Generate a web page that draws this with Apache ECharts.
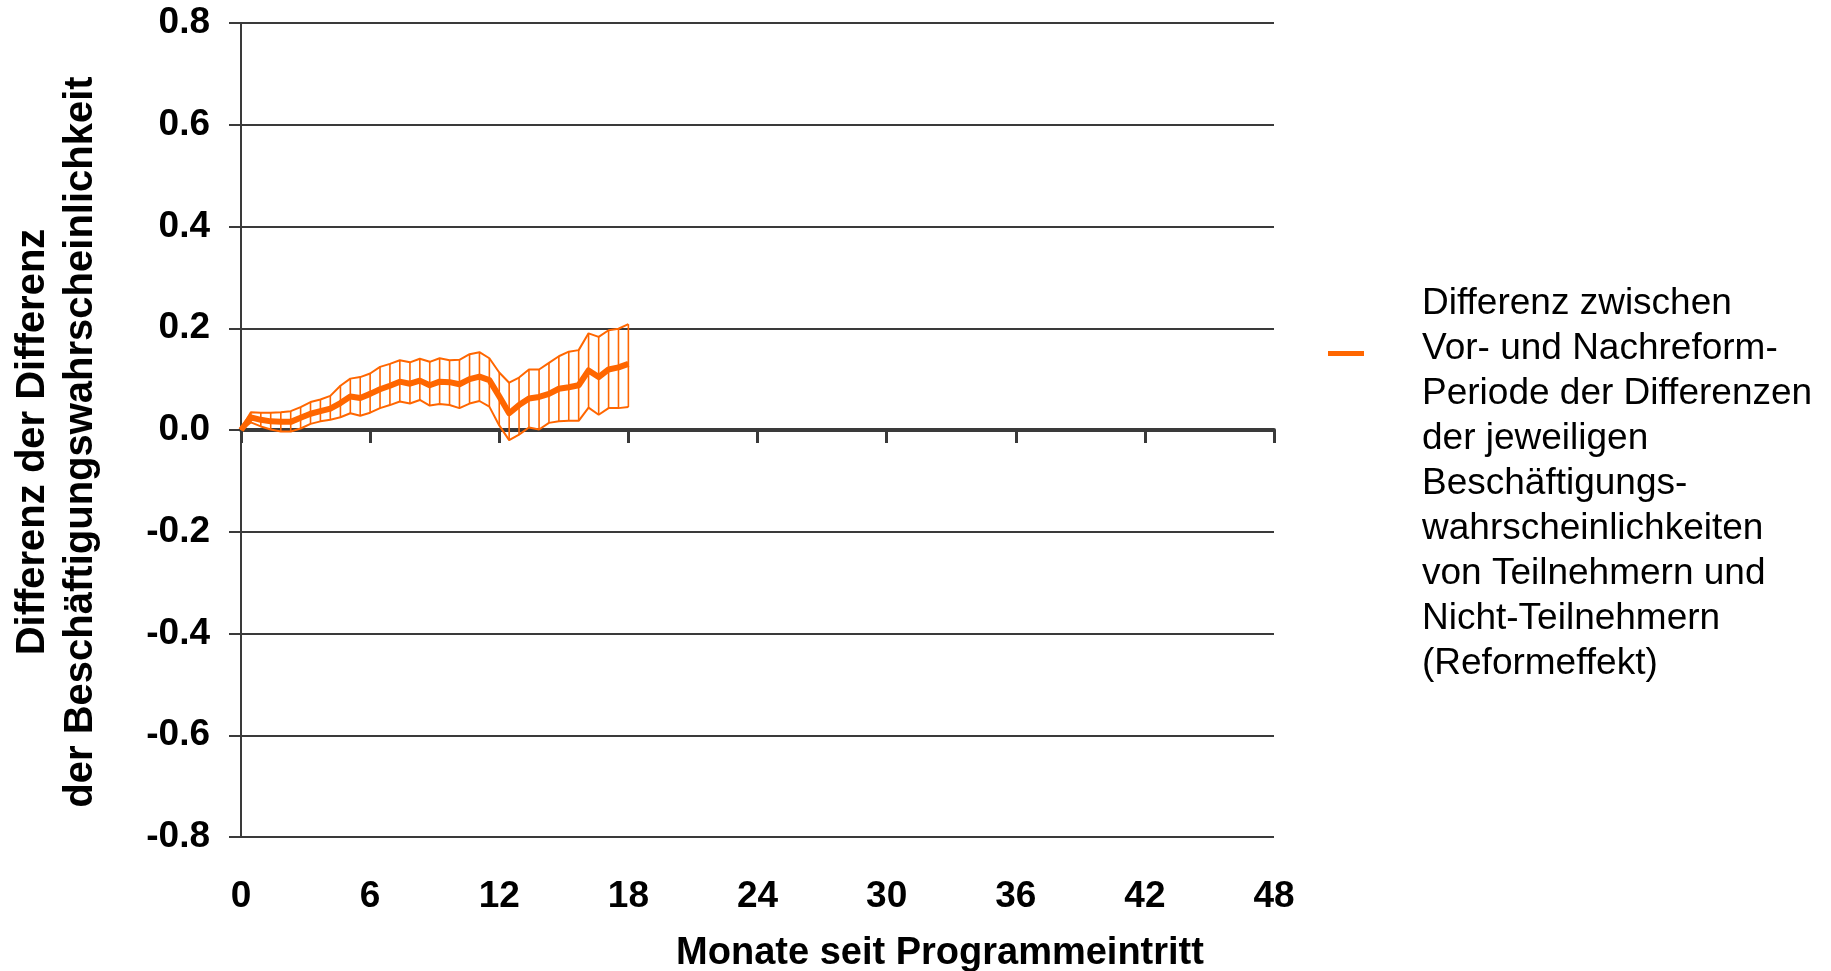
<!DOCTYPE html>
<html>
<head>
<meta charset="utf-8">
<script src="https://cdn.jsdelivr.net/npm/echarts@6/dist/echarts.min.js"></script>
<style>
  html, body { margin: 0; padding: 0; background: #ffffff; }
  #chart { width: 1831px; height: 971px; }
</style>
</head>
<body>
<div id="chart"></div>
<script>
// Months since programme entry (two-week steps)
const months = [
  0.00, 0.46, 0.92, 1.38, 1.85, 2.31, 2.77, 3.23, 3.69, 4.15,
  4.62, 5.08, 5.54, 6.00, 6.46, 6.92, 7.38, 7.85, 8.31, 8.77,
  9.23, 9.69, 10.15, 10.62, 11.08, 11.54, 12.00, 12.46, 12.92, 13.38,
  13.85, 14.31, 14.77, 15.23, 15.69, 16.15, 16.62, 17.08, 17.54, 18.00
];

// Reform effect (difference of differences)
const effect = [
  0.000, 0.025, 0.020, 0.017, 0.016, 0.016, 0.024, 0.032, 0.037, 0.042,
  0.053, 0.066, 0.063, 0.071, 0.080, 0.087, 0.095, 0.091, 0.097, 0.088,
  0.095, 0.094, 0.090, 0.100, 0.105, 0.098, 0.066, 0.033, 0.049, 0.062,
  0.065, 0.071, 0.081, 0.084, 0.088, 0.117, 0.104, 0.119, 0.123, 0.130
];

// Lower confidence bound
const lowerBound = [
  0.000, 0.015, 0.007, 0.001, -0.003, -0.003, 0.003, 0.012, 0.017, 0.020,
  0.025, 0.033, 0.028, 0.034, 0.043, 0.049, 0.056, 0.052, 0.059, 0.048,
  0.051, 0.049, 0.043, 0.052, 0.057, 0.046, 0.009, -0.020, -0.009, 0.005,
  0.001, 0.014, 0.017, 0.018, 0.018, 0.044, 0.030, 0.043, 0.043, 0.045
];

// Upper confidence bound
const upperBound = [
  0.003, 0.035, 0.034, 0.034, 0.035, 0.037, 0.045, 0.055, 0.060, 0.067,
  0.087, 0.101, 0.104, 0.111, 0.124, 0.130, 0.137, 0.133, 0.140, 0.134,
  0.141, 0.137, 0.138, 0.149, 0.153, 0.141, 0.113, 0.093, 0.103, 0.119,
  0.119, 0.132, 0.145, 0.154, 0.157, 0.190, 0.183, 0.196, 0.199, 0.208
];

const xScale = { min: 0, max: 48, step: 6 };
const yScale = { min: -0.8, max: 0.8, step: 0.2 };

const xTitle = 'Monate seit Programmeintritt';
const yTitle = 'Differenz der Differenz\nder Beschäftigungswahrscheinlichkeit';
const seriesName = 'Differenz zwischen\nVor- und Nachreform-\nPeriode der Differenzen\nder jeweiligen\nBeschäftigungs-\nwahrscheinlichkeiten\nvon Teilnehmern und\nNicht-Teilnehmern\n(Reformeffekt)';

const ORANGE = '#FF6600';
const AXIS = '#3a3a3a';
const FONT = '"Liberation Sans", Arial, sans-serif';

const zip = (a, b) => a.map((v, i) => [v, b[i]]);
const bandData = months.map((m, i) => [m, lowerBound[i], upperBound[i]]);

const chart = echarts.init(document.getElementById('chart'), null, { renderer: 'canvas' });

chart.setOption({
  animation: false,
  backgroundColor: '#ffffff',
  grid: {
    left: 241, top: 23, width: 1033, height: 814,
    containLabel: false,
    outerBoundsMode: 'none'
  },
  xAxis: [
    {
      type: 'value',
      min: xScale.min, max: xScale.max, interval: xScale.step,
      position: 'bottom',
      axisLine: { show: false, onZero: false },
      axisTick: { show: false },
      splitLine: { show: false },
      axisLabel: {
        margin: 41,
        color: '#000', fontFamily: FONT, fontWeight: 'bold', fontSize: 37
      },
      name: xTitle,
      nameLocation: 'middle',
      nameGap: 98,
      nameTextStyle: {
        color: '#000', fontFamily: FONT, fontWeight: 'bold', fontSize: 38,
        padding: [0, 0, 0, 365]
      }
    },
    {
      type: 'value',
      min: xScale.min, max: xScale.max, interval: xScale.step,
      position: 'top',
      axisLine: { show: true, onZero: true, lineStyle: { color: AXIS, width: 4 } },
      axisTick: { show: true, inside: true, length: 13, lineStyle: { color: AXIS, width: 3 } },
      axisLabel: { show: false },
      splitLine: { show: false }
    }
  ],
  yAxis: {
    type: 'value',
    min: yScale.min, max: yScale.max, interval: yScale.step,
    axisLine: { show: true, onZero: false, lineStyle: { color: AXIS, width: 2 } },
    axisTick: { show: true, length: 12, lineStyle: { color: AXIS, width: 2 } },
    splitLine: { show: true, lineStyle: { color: AXIS, width: 2 } },
    axisLabel: {
      margin: 31,
      formatter: v => v.toFixed(1),
      color: '#000', fontFamily: FONT, fontWeight: 'bold', fontSize: 37
    },
    name: yTitle,
    nameLocation: 'middle',
    nameRotate: 90,
    nameGap: 136,
    nameTextStyle: {
      color: '#000', fontFamily: FONT, fontWeight: 'bold', fontSize: 40,
      lineHeight: 48, padding: [0, 24, 0, 0]
    }
  },
  series: [
    {
      name: 'band',
      type: 'custom',
      xAxisIndex: 0,
      data: bandData,
      encode: { x: 0, y: [1, 2] },
      renderItem: (params, api) => {
        const hi = api.coord([api.value(0), api.value(2)]);
        const lo = api.coord([api.value(0), api.value(1)]);
        return {
          type: 'line',
          shape: { x1: hi[0], y1: hi[1], x2: lo[0], y2: lo[1] },
          style: { stroke: ORANGE, lineWidth: 1.6 }
        };
      },
      z: 2
    },
    {
      name: 'upper',
      type: 'line',
      xAxisIndex: 0,
      data: zip(months, upperBound),
      symbol: 'none',
      lineStyle: { color: ORANGE, width: 2 },
      z: 3
    },
    {
      name: 'lower',
      type: 'line',
      xAxisIndex: 0,
      data: zip(months, lowerBound),
      symbol: 'none',
      lineStyle: { color: ORANGE, width: 2 },
      z: 3
    },
    {
      name: seriesName,
      type: 'line',
      xAxisIndex: 0,
      data: zip(months, effect),
      symbol: 'none',
      lineStyle: { color: ORANGE, width: 6, join: 'round' },
      z: 4
    }
  ],
  graphic: [
    {
      type: 'rect',
      left: 1328, top: 351,
      shape: { width: 36, height: 5 },
      style: { fill: ORANGE }
    },
    {
      type: 'text',
      left: 1422, top: 281,
      style: {
        text: seriesName,
        fill: '#000',
        font: '37px ' + FONT,
        lineHeight: 45
      }
    }
  ]
});
</script>
</body>
</html>
